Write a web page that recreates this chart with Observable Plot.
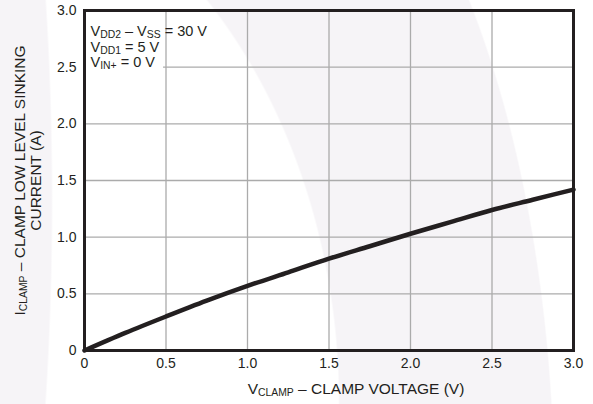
<!DOCTYPE html>
<html><head><meta charset="utf-8">
<script src="https://cdn.jsdelivr.net/npm/d3@7"></script>
<script src="https://cdn.jsdelivr.net/npm/@observablehq/plot@0.6"></script>
<style>
html,body{margin:0;padding:0;background:#fff;}
#chart{position:relative;width:593px;height:404px;overflow:hidden;
background:
 radial-gradient(ellipse 453px 1200px at -400px 200px, #f6f4f7 99.6%, transparent 100%),
 radial-gradient(ellipse 440px 566px at -100px 404px, #ffffff 99.6%, transparent 100%),
 radial-gradient(ellipse 355px 770px at 200px 500px, #f6f4f7 99.6%, transparent 100%),
 #ffffff;}
#chart svg{display:block;}
</style>
</head><body>
<div id="chart"></div>
<script>
// ---- data ----
const vClamp = [0, 0.25, 0.5, 0.75, 1.0, 1.25, 1.5, 1.75, 2.0, 2.25, 2.5, 2.75, 3.0];
const iClamp = [0, 0.155, 0.30, 0.44, 0.57, 0.69, 0.81, 0.92, 1.03, 1.135, 1.24, 1.33, 1.42];
const xTicks = [0, 0.5, 1.0, 1.5, 2.0, 2.5, 3.0];
const yTicks = [0, 0.5, 1.0, 1.5, 2.0, 2.5, 3.0];
const noteLines = ["V_{DD2} – V_{SS} = 30 V", "V_{DD1} = 5 V", "V_{IN+} = 0 V"];
const noteBox = [{x1: 0, x2: 0.485, y1: 2.48, y2: 3.0}];
const xLabel = "V_{CLAMP} – CLAMP VOLTAGE (V)";
const yLabel1 = "I_{CLAMP} – CLAMP LOW LEVEL SINKING";
const yLabel2 = "CURRENT (A)";

const ink = "#231f20";
const grid = "#ababab";
const fmt = d => d === 0 ? "0" : d.toFixed(1);
const curveData = vClamp.map((v, i) => ({v, c: iClamp[i]}));
const noteStyle = {frameAnchor: "top-left", dx: 6, lineAnchor: "bottom", textAnchor: "start", fontSize: 14.5, fill: ink, text: d => d};

const chart = Plot.plot({
  width: 593, height: 404,
  marginLeft: 84, marginRight: 20, marginTop: 10, marginBottom: 54,
  style: {background: "transparent", fontFamily: "'Liberation Sans', Arial, sans-serif", fontSize: "14px", color: ink},
  x: {domain: [0, 3], ticks: xTicks, tickSize: 0, tickPadding: 8, tickFormat: fmt, label: null},
  y: {domain: [0, 3], ticks: yTicks, tickSize: 0, tickPadding: 8, tickFormat: fmt, label: null},
  marks: [
    Plot.ruleX(xTicks.slice(1, -1), {stroke: grid, strokeWidth: 1.3}),
    Plot.ruleY(yTicks.slice(1, -1), {stroke: grid, strokeWidth: 1.3}),
    Plot.rect(noteBox, {x1: "x1", x2: "x2", y1: "y1", y2: "y2", fill: "white"}),
    Plot.line(curveData, {x: "v", y: "c", stroke: ink, strokeWidth: 4.5, curve: "monotone-x"}),
    Plot.frame({stroke: ink, strokeWidth: 3}),
    Plot.text([noteLines[0]], {...noteStyle, dy: 25}),
    Plot.text([noteLines[1]], {...noteStyle, dy: 41}),
    Plot.text([noteLines[2]], {...noteStyle, dy: 56}),
    Plot.text([xLabel], {frameAnchor: "bottom", dx: 27, dy: 43, lineAnchor: "bottom", textAnchor: "middle", fontSize: 15.5, fill: ink, text: d => d}),
    Plot.text([yLabel1], {frameAnchor: "left", rotate: -90, dx: -60, lineAnchor: "bottom", textAnchor: "middle", fontSize: 15.5, fill: ink, text: d => d}),
    Plot.text([yLabel2], {frameAnchor: "left", rotate: -90, dx: -44, lineAnchor: "bottom", textAnchor: "middle", fontSize: 15.5, fill: ink, text: d => d})
  ]
});

// subscripts: "_{...}" -> smaller, lowered tspans
d3.select(chart).selectAll("text").each(function () {
  const t = this.textContent;
  if (!t.includes("_{")) return;
  const sel = d3.select(this);
  const base = parseFloat(sel.attr("font-size")) || 14;
  const subSize = Math.round(base * 0.74 * 10) / 10;
  sel.text(null);
  const re = /_\{([^}]*)\}/g;
  let last = 0, m, lowered = false;
  while ((m = re.exec(t))) {
    if (m.index > last) {
      sel.append("tspan").attr("dy", lowered ? -2 : null).text(t.slice(last, m.index));
      lowered = false;
    }
    sel.append("tspan").attr("font-size", subSize).attr("dy", lowered ? null : 2).text(m[1]);
    lowered = true;
    last = re.lastIndex;
  }
  if (last < t.length) sel.append("tspan").attr("dy", lowered ? -2 : null).text(t.slice(last));
});

document.getElementById("chart").appendChild(chart);
</script>
</body></html>
